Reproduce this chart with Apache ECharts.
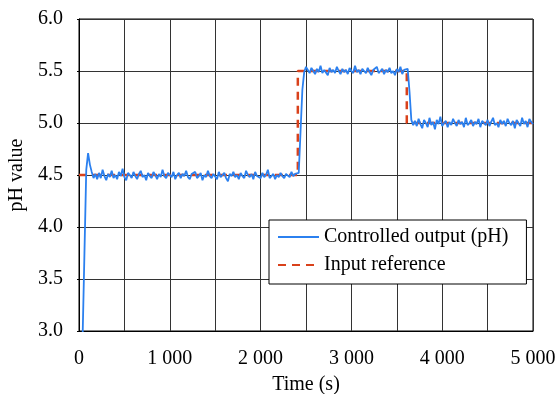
<!DOCTYPE html>
<html>
<head>
<meta charset="utf-8">
<script src="https://cdn.jsdelivr.net/npm/echarts@6/dist/echarts.min.js"></script>
<style>html,body{margin:0;padding:0;background:#fff}#c{width:559px;height:394px}</style>
</head>
<body>
<div id="c"></div>
<script>
// sample spacing of the controlled output (s)
const sampleStep = 20;
// controlled output pH, one value per 20 s from t = 0 to 5000 s
const outputPH = [
  null, null, 2.95, 3.75, 4.55, 4.71, 4.60, 4.53, 4.47, 4.51, 4.46,
  4.52,4.47,4.55,4.49,4.45,4.51,4.48,4.54,4.47,4.50,
  4.46,4.53,4.49,4.56,4.48,4.45,4.52,4.50,4.47,4.53,
  4.49,4.46,4.51,4.54,4.48,4.50,4.45,4.52,4.49,4.47,
  4.53,4.50,4.46,4.51,4.48,4.55,4.49,4.47,4.52,4.50,
  4.48,4.53,4.46,4.50,4.52,4.47,4.51,4.49,4.54,4.48,
  4.46,4.51,4.50,4.53,4.47,4.49,4.52,4.45,4.50,4.48,
  4.54,4.49,4.47,4.51,4.50,4.46,4.53,4.48,4.50,4.52,
  4.47,4.44,4.51,4.49,4.53,4.48,4.50,4.46,4.52,4.49,
  4.47,4.54,4.50,4.48,4.51,4.46,4.53,4.49,4.50,4.47,
  4.52,4.48,4.50,4.55,4.47,4.49,4.51,4.46,4.50,4.48,
  4.52,4.49,4.47,4.51,4.50,4.48,4.53,4.49,4.51,4.50,
  4.52, 4.92, 5.32, 5.49, 5.54,
  5.51,5.48,5.53,5.50,5.47,5.52,5.49,5.55,5.48,5.51,
  5.50,5.46,5.53,5.49,5.51,5.48,5.54,5.50,5.47,5.52,
  5.49,5.51,5.47,5.53,5.50,5.48,5.55,5.49,5.51,5.47,
  5.52,5.50,5.48,5.53,5.49,5.46,5.51,5.50,5.54,5.48,
  5.50,5.52,5.47,5.51,5.49,5.53,5.48,5.50,5.46,5.52,
  5.49,5.54,5.47,5.51,5.50,
  5.52, 5.30, 5.03, 4.98,
  5.02,4.97,5.04,4.99,4.95,5.03,5.00,4.96,5.05,4.98,
  5.01,4.94,5.03,4.99,5.06,4.97,5.00,5.02,4.96,5.01,
  4.98,5.04,5.00,4.97,5.03,4.99,5.01,4.96,5.05,4.98,
  5.00,5.03,4.97,5.01,4.99,5.04,4.96,5.02,5.00,4.98,
  5.03,4.97,5.01,5.05,4.98,5.00,4.96,5.03,4.99,5.02,
  4.97,5.04,5.00,4.98,5.02,4.95,5.03,5.00,4.97,5.05,
  4.99,5.02,4.96,5.04,5.01,4.99
];
// input reference (step signal) corner points
const refTime = [0, 2410, 2410, 3610, 3610, 5000];
const refPH   = [4.5, 4.5, 5.5, 5.5, 5.0, 5.0];

const outData = outputPH.map((v, i) => [i * sampleStep, v]);
const refData = refTime.map((t, i) => [t, refPH[i]]);

const FONT = '"Liberation Serif", "Times New Roman", serif';
const FS = 20;
const chart = echarts.init(document.getElementById('c'), null, {renderer: 'canvas'});
chart.setOption({
  animation: false,
  backgroundColor: '#fff',
  textStyle: {fontFamily: FONT, color: '#000'},
  grid: {left: 79, right: 26, top: 19, bottom: 63, containLabel: false, outerBoundsMode: 'none',
         show: true, borderColor: '#000', borderWidth: 1, backgroundColor: 'transparent'},
  xAxis: {
    type: 'value', min: 0, max: 5000, interval: 500,
    name: 'Time (s)', nameLocation: 'middle', nameGap: 44,
    nameTextStyle: {fontFamily: FONT, fontSize: FS, color: '#000'},
    axisLine: {show: true, lineStyle: {color: '#000', width: 1}},
    axisTick: {show: false},
    axisLabel: {
      margin: 18, fontFamily: FONT, fontSize: FS, color: '#000',
      formatter: v => v % 1000 !== 0 ? '' : (v === 0 ? '0' : (v / 1000) + ' 000')
    },
    splitLine: {show: true, lineStyle: {color: '#333', width: 1}}
  },
  yAxis: {
    type: 'value', min: 3, max: 6, interval: 0.5,
    name: 'pH value', nameLocation: 'middle', nameGap: 46,
    nameTextStyle: {fontFamily: FONT, fontSize: FS, color: '#000'},
    axisLine: {show: true, lineStyle: {color: '#000', width: 1}},
    axisTick: {show: true, length: 2, lineStyle: {color: '#000'}},
    axisLabel: {margin: 16, fontFamily: FONT, fontSize: FS, color: '#000', formatter: v => v.toFixed(1)},
    splitLine: {show: true, lineStyle: {color: '#333', width: 1}}
  },
  legend: {
    orient: 'vertical', left: 269, top: 220,
    padding: [7, 18, 9, 8], itemGap: 8, itemWidth: 41, itemHeight: 14,
    backgroundColor: '#fff', borderColor: '#000', borderWidth: 1, borderRadius: 0,
    itemStyle: {opacity: 0},
    textStyle: {fontFamily: FONT, fontSize: FS, color: '#000'},
    data: ['Controlled output (pH)', 'Input reference']
  },
  series: [
    {
      name: 'Controlled output (pH)', type: 'line', data: outData,
      showSymbol: false, symbol: 'none', connectNulls: false, clip: true,
      lineStyle: {color: '#2b80ef', width: 1.8},
      itemStyle: {color: '#2b80ef'}, z: 2
    },
    {
      name: 'Input reference', type: 'line', data: refData,
      showSymbol: false, symbol: 'none', clip: true,
      lineStyle: {color: '#d9411b', width: 2.5, type: [8, 6]},
      itemStyle: {color: '#d9411b'}, z: 1
    }
  ]
});
</script>
</body>
</html>
